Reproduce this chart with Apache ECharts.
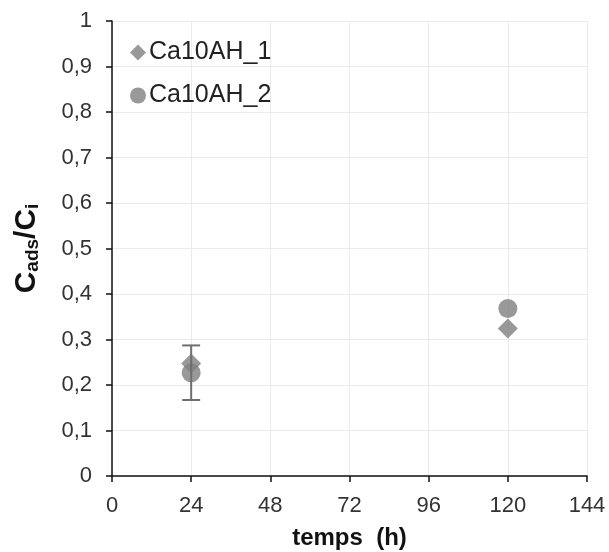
<!DOCTYPE html>
<html><head><meta charset="utf-8">
<script src="https://cdn.jsdelivr.net/npm/echarts@6/dist/echarts.min.js"></script>
<style>html,body{margin:0;padding:0;background:#fff}#c{width:609px;height:552px}</style>
</head><body><div id="c"></div>
<script>
const xTicks = [0, 24, 48, 72, 96, 120, 144];
const yTicks = [0, 0.1, 0.2, 0.3, 0.4, 0.5, 0.6, 0.7, 0.8, 0.9, 1];
const times = [24, 120];
const ca10ah1 = [0.247, 0.324];
const ca10ah2 = [0.227, 0.368];
const ca10ah2Err = [0.060, 0];
const seriesNames = ['Ca10AH_1', 'Ca10AH_2'];

const gray = '#7f7f7f';
const font = '"Liberation Sans", Arial, sans-serif';
const chart = echarts.init(document.getElementById('c'), null, {renderer: 'canvas'});
const errData = times.map((t, i) => [t, ca10ah2[i] - ca10ah2Err[i], ca10ah2[i] + ca10ah2Err[i]]).filter((d, i) => ca10ah2Err[i] > 0);

chart.setOption({
  animation: false,
  backgroundColor: '#fff',
  grid: {left: 112, right: 22, top: 21, bottom: 76, containLabel: false, outerBoundsMode: 'none'},
  legend: {
    orient: 'vertical', left: 125, top: 35, itemGap: 18, itemWidth: 16, itemHeight: 16,
    textStyle: {fontFamily: font, fontSize: 25, color: '#222', padding: [0, 0, 0, -2]},
    data: [{name: seriesNames[0], icon: 'diamond'}, {name: seriesNames[1], icon: 'circle'}]
  },
  xAxis: {
    type: 'value', min: xTicks[0], max: xTicks[xTicks.length - 1], interval: 24,
    name: 'temps  (h)', nameLocation: 'middle', nameGap: 50,
    nameTextStyle: {fontFamily: font, fontSize: 24, fontWeight: 'bold', color: '#111'},
    axisLine: {show: true, lineStyle: {color: '#111', width: 1.5}},
    axisTick: {show: true, inside: false, length: 6, lineStyle: {color: '#111', width: 1.5}},
    axisLabel: {fontFamily: font, fontSize: 22, color: '#333', margin: 19},
    splitLine: {show: true, lineStyle: {color: '#ebebeb', width: 1}}
  },
  yAxis: {
    type: 'value', min: 0, max: 1, interval: 0.1,
    name: '{b|C}{s|ads}{b|/C}{s|i}', nameLocation: 'middle', nameGap: 70, nameRotate: 90,
    nameTextStyle: {
      rich: {
        b: {fontFamily: font, fontSize: 30, fontWeight: 'bold', color: '#111'},
        s: {fontFamily: font, fontSize: 19, fontWeight: 'bold', color: '#111', verticalAlign: 'bottom', padding: [11, 0, 0, 0]}
      }
    },
    axisLine: {show: true, lineStyle: {color: '#111', width: 1.5}},
    axisTick: {show: true, inside: false, length: 6, lineStyle: {color: '#111', width: 1.5}},
    axisLabel: {fontFamily: font, fontSize: 22, color: '#333', margin: 20,
      formatter: v => String(Math.round(v * 10) / 10).replace('.', ',')},
    splitLine: {show: true, lineStyle: {color: '#ebebeb', width: 1}}
  },
  series: [
    {
      name: seriesNames[0], type: 'scatter', symbol: 'diamond', symbolSize: 20,
      itemStyle: {color: gray}, z: 3,
      data: times.map((t, i) => [t, ca10ah1[i]])
    },
    {
      name: seriesNames[1], type: 'scatter', symbol: 'circle', symbolSize: 19,
      itemStyle: {color: gray}, z: 4,
      data: times.map((t, i) => [t, ca10ah2[i]])
    },
    {
      type: 'custom', name: 'err', z: 5, silent: true,
      data: errData,
      encode: {x: 0, y: [1, 2]},
      renderItem: (params, api) => {
        const lo = api.coord([api.value(0), api.value(1)]);
        const hi = api.coord([api.value(0), api.value(2)]);
        const w = 9;
        const st = {stroke: '#6f6f6f', lineWidth: 2};
        return {type: 'group', children: [
          {type: 'line', shape: {x1: lo[0], y1: lo[1], x2: hi[0], y2: hi[1]}, style: st},
          {type: 'line', shape: {x1: lo[0] - w, y1: lo[1], x2: lo[0] + w, y2: lo[1]}, style: st},
          {type: 'line', shape: {x1: hi[0] - w, y1: hi[1], x2: hi[0] + w, y2: hi[1]}, style: st}
        ]};
      }
    }
  ]
});
</script></body></html>
